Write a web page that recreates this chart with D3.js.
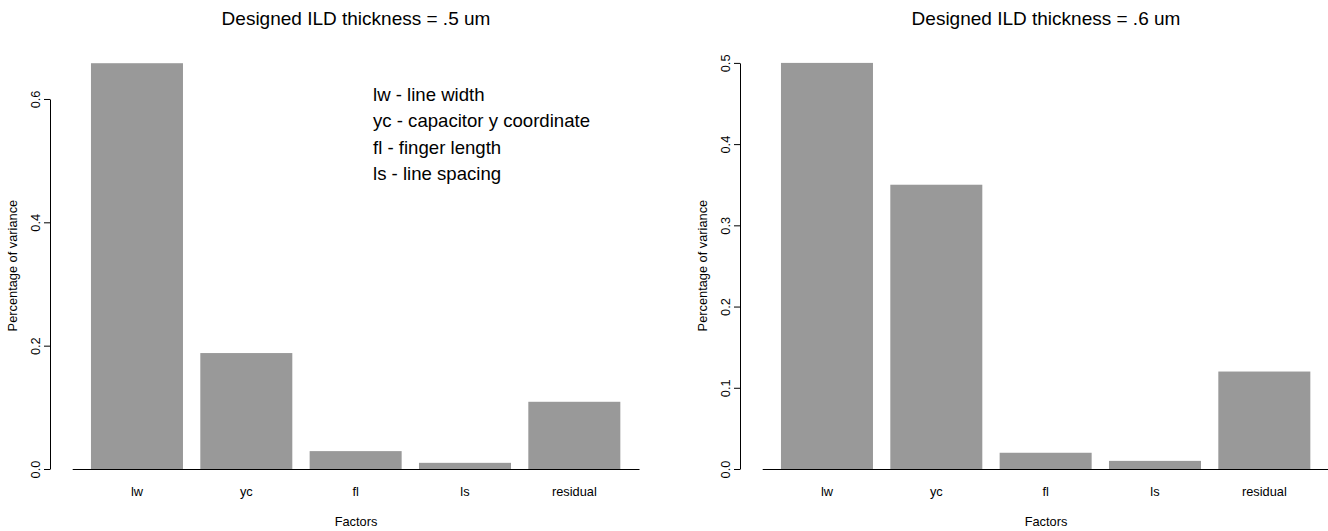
<!DOCTYPE html>
<html lang="en">
<head>
<meta charset="UTF-8">
<title>Designed ILD thickness</title>
<script src="https://d3js.org/d3.v7.min.js"></script>
<style>
body{margin:0;background:#fff;}
svg{display:block;font-family:"Liberation Sans",Arial,Helvetica,sans-serif;}
.axis path,.axis line{stroke:#000;}
.bar{fill:#999999;}
</style>
</head>
<body>
<div id="chart"></div>
<script>
// data
var categories = ["lw", "yc", "fl", "ls", "residual"];
var valuesA = [0.658, 0.188, 0.029, 0.01, 0.109];
var valuesB = [0.5, 0.35, 0.02, 0.01, 0.12];
var ticksA = [0.0, 0.2, 0.4, 0.6];
var ticksB = [0.0, 0.1, 0.2, 0.3, 0.4, 0.5];
var titles = ["Designed ILD thickness = .5 um", "Designed ILD thickness = .6 um"];
var legendLines = ["lw - line width", "yc - capacitor y coordinate", "fl - finger length", "ls - line spacing"];
var xTitle = "Factors";
var yTitle = "Percentage of variance";

var W = 1328, H = 531;
var svg = d3.select("#chart").append("svg").attr("width", W).attr("height", H);

var drawPanel = function(dx, values, ticks, title){
  var g = svg.append("g").attr("transform", "translate(" + dx + ",0)");
  var x = d3.scaleBand().domain(categories).range([82.3, 629])
    .paddingInner(0.1585).paddingOuter(0.0793);
  var y = d3.scaleLinear().domain([0, d3.max(ticks)]).range([469, 469 - d3.max(ticks) * (ticks[1] === 0.1 ? 812.2 : 616.7)]);

  g.selectAll("rect").data(values).enter().append("rect")
    .attr("class", "bar")
    .attr("x", function(d, i){ return x(categories[i]); })
    .attr("width", x.bandwidth())
    .attr("y", function(d){ return y(d); })
    .attr("height", function(d){ return y(0) - y(d); });

  // baseline under the bars
  g.append("line").attr("x1", 72.7).attr("x2", 639.5)
    .attr("y1", y(0) + 0.5).attr("y2", y(0) + 0.5)
    .attr("stroke", "#000").attr("stroke-width", 1.2);

  var ax = g.append("g").attr("class", "axis").attr("transform", "translate(50,0)")
    .call(d3.axisLeft(y).tickValues(ticks).tickFormat(d3.format(".1f")).tickSize(6).tickSizeOuter(0));
  ax.select(".domain").attr("fill", "none");
  ax.selectAll("text")
    .attr("x", null).attr("dy", null)
    .attr("transform", "translate(-10,0) rotate(-90)")
    .attr("text-anchor", "middle")
    .attr("fill", "#000")
    .style("font-size", "12.8px")
    .style("font-family", "\"Liberation Sans\",Arial,sans-serif");

  g.selectAll(".xlab").data(categories).enter().append("text")
    .attr("class", "xlab")
    .attr("x", function(d){ return x(d) + x.bandwidth() / 2; })
    .attr("y", 496)
    .attr("text-anchor", "middle")
    .style("font-size", "12.8px")
    .text(function(d){ return d; });

  g.append("text").attr("x", 356).attr("y", 526).attr("text-anchor", "middle")
    .style("font-size", "12.8px").text(xTitle);
  g.append("text").attr("transform", "translate(17,265.6) rotate(-90)")
    .attr("text-anchor", "middle").style("font-size", "12.8px").text(yTitle);
  g.append("text").attr("x", 356).attr("y", 25).attr("text-anchor", "middle")
    .style("font-size", "19px").text(title);
  return g;
};

var left = drawPanel(0, valuesA, ticksA, titles[0]);
drawPanel(690, valuesB, ticksB, titles[1]);

left.selectAll(".legend").data(legendLines).enter().append("text")
  .attr("class", "legend")
  .attr("x", 373)
  .attr("y", function(d, i){ return 100.7 + i * 26.5; })
  .style("font-size", "18.6px")
  .text(function(d){ return d; });
</script>
</body>
</html>
